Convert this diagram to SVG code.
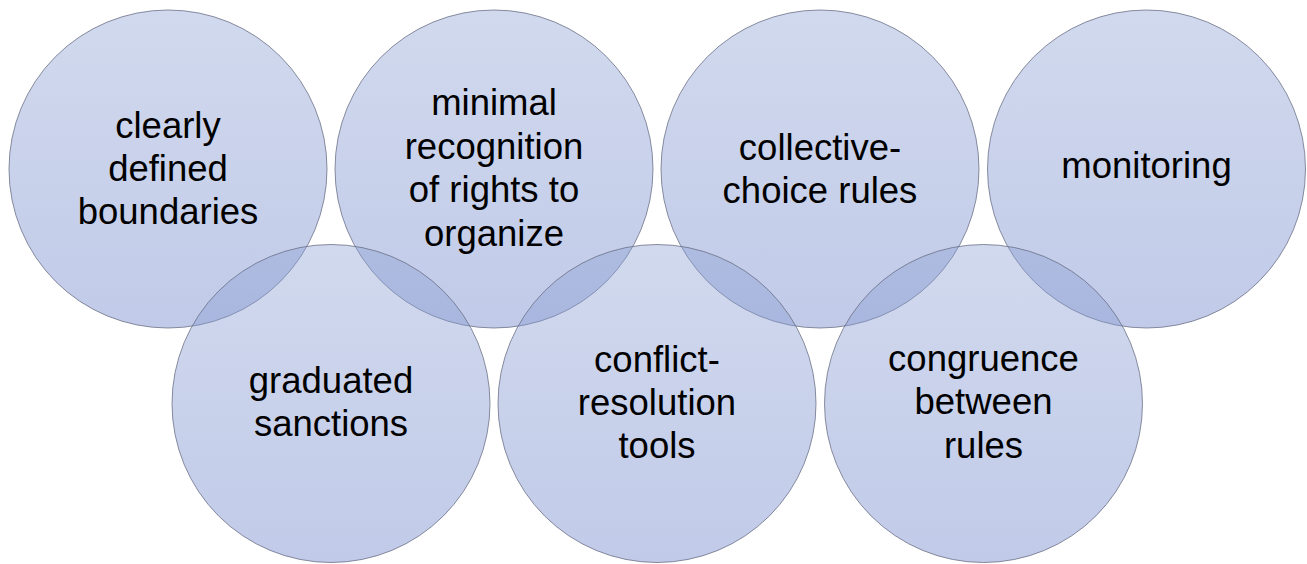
<svg xmlns="http://www.w3.org/2000/svg" width="1307" height="564" viewBox="0 0 1307 564">
<defs>
<linearGradient id="g" x1="0" y1="0" x2="0" y2="1">
<stop offset="0" stop-color="rgb(140,160,212)" stop-opacity="0.4"/>
<stop offset="1" stop-color="rgb(120,140,205)" stop-opacity="0.46"/>
</linearGradient>
</defs>
<style>
.c{fill:url(#g);stroke:rgb(100,106,128);stroke-opacity:0.75;stroke-width:1}
.t{font-family:"Liberation Sans",Arial,sans-serif;font-size:36.5px;fill:#000;text-anchor:middle}
</style>
<rect width="1307" height="564" fill="#fff"/>
<g id="n1"><circle class="c" cx="168" cy="169" r="159"/>
<text class="t"><tspan x="168" y="138">clearly</tspan><tspan x="168" y="181">defined</tspan><tspan x="168" y="224">boundaries</tspan></text></g>
<g id="n2"><circle class="c" cx="494" cy="169" r="159"/>
<text class="t"><tspan x="494" y="115">minimal</tspan><tspan x="494" y="158.5">recognition</tspan><tspan x="494" y="202">of rights to</tspan><tspan x="494" y="245.5">organize</tspan></text></g>
<g id="n3"><circle class="c" cx="820" cy="169" r="159"/>
<text class="t"><tspan x="820" y="160">collective-</tspan><tspan x="820" y="203">choice rules</tspan></text></g>
<g id="n4"><circle class="c" cx="1146.5" cy="169" r="159"/>
<text class="t" x="1146.5" y="178">monitoring</text></g>
<g id="n5"><circle class="c" cx="331" cy="403.5" r="159"/>
<text class="t"><tspan x="331" y="393">graduated</tspan><tspan x="331" y="436">sanctions</tspan></text></g>
<g id="n6"><circle class="c" cx="657" cy="403.5" r="159"/>
<text class="t"><tspan x="657" y="372">conflict-</tspan><tspan x="657" y="415">resolution</tspan><tspan x="657" y="458">tools</tspan></text></g>
<g id="n7"><circle class="c" cx="983.5" cy="403.5" r="159"/>
<text class="t"><tspan x="983.5" y="371">congruence</tspan><tspan x="983.5" y="414">between</tspan><tspan x="983.5" y="458">rules</tspan></text></g>
<g id="connectors"/>
</svg>
